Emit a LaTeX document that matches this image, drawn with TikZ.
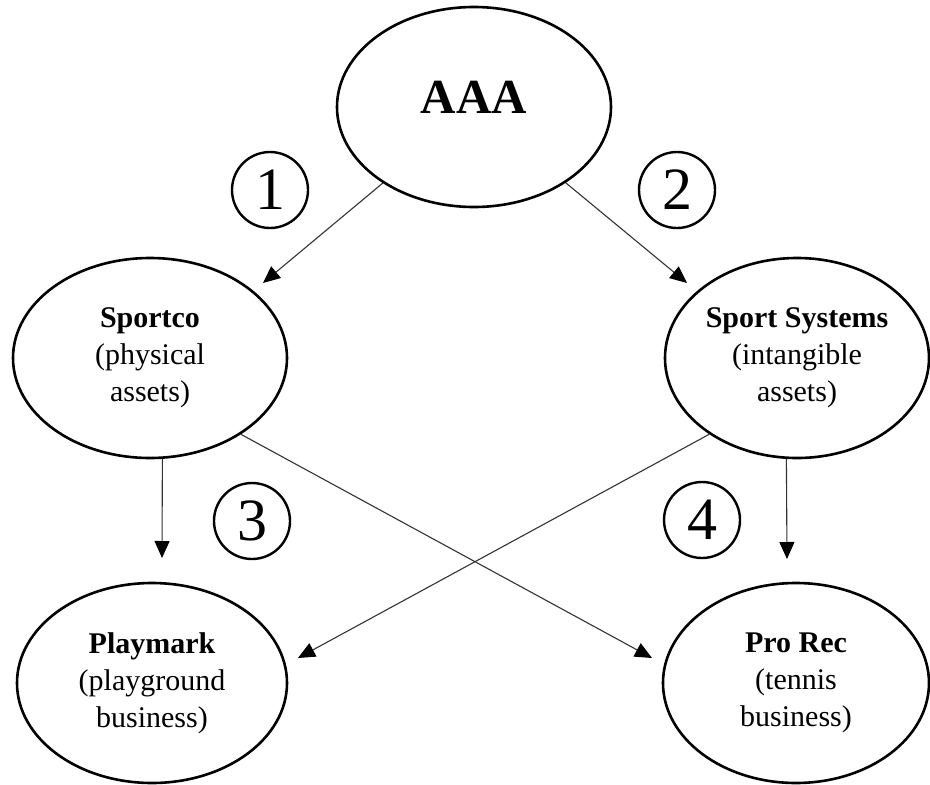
\documentclass[tikz,border=0pt]{standalone}
\usepackage{fontspec}
\setmainfont{Liberation Serif}
\usetikzlibrary{shapes.geometric,arrows.meta}
\begin{document}
\begin{tikzpicture}[x=1pt,y=-1pt,
  bigell/.style={ellipse, draw=black, line width=2.6pt, minimum width=274pt, minimum height=200pt, inner sep=0pt, align=center, font=\fontsize{30}{37}\selectfont},
  numcirc/.style={circle, draw=black, line width=2.4pt, minimum size=76pt, inner sep=0pt, font=\fontsize{60}{60}\selectfont},
  conn/.style={draw=black!80, line width=1.1pt, -{Triangle[length=17pt,width=15pt,fill=black,color=black]}}
]
\useasboundingbox (0,0) rectangle (930,785);
\fill[white] (0,0) rectangle (930,785);

\node[bigell, font=\fontsize{49}{49}\selectfont\bfseries, text depth=20pt] (aaa) at (474,107) {AAA};
\node[bigell] (sportco) at (150,358) {\textbf{Sportco}\\(physical\\assets)};
\node[bigell, minimum width=264pt] (sportsys) at (797,358) {\textbf{Sport Systems}\\(intangible\\assets)};
\node[bigell, minimum width=270pt] (playmark) at (152,683) {\textbf{Playmark}\\(playground\\business)};
\node[bigell, minimum width=266pt] (prorec) at (796,683) {\textbf{Pro Rec}\\(tennis\\business)};

\node[numcirc] (n1) at (270,190) {1};
\node[numcirc] (n2) at (677,190) {2};
\node[numcirc] (n3) at (252,521) {3};
\node[numcirc] (n4) at (702,520) {4};

\coordinate (t1) at (263,283);
\coordinate (t2) at (687,283);
\coordinate (t3) at (162,558);
\coordinate (t4) at (787,559);
\coordinate (tpm) at (298,658);
\coordinate (tpr) at (652,658);

\draw[conn] (aaa) -- (t1);
\draw[conn] (aaa) -- (t2);
\draw[conn] (sportco.277) -- (t3);
\draw[conn] (sportsys.264) -- (t4);
\draw[conn] (sportco.320) -- (tpr);
\draw[conn] (sportsys.221) -- (tpm);
\end{tikzpicture}
\end{document}
